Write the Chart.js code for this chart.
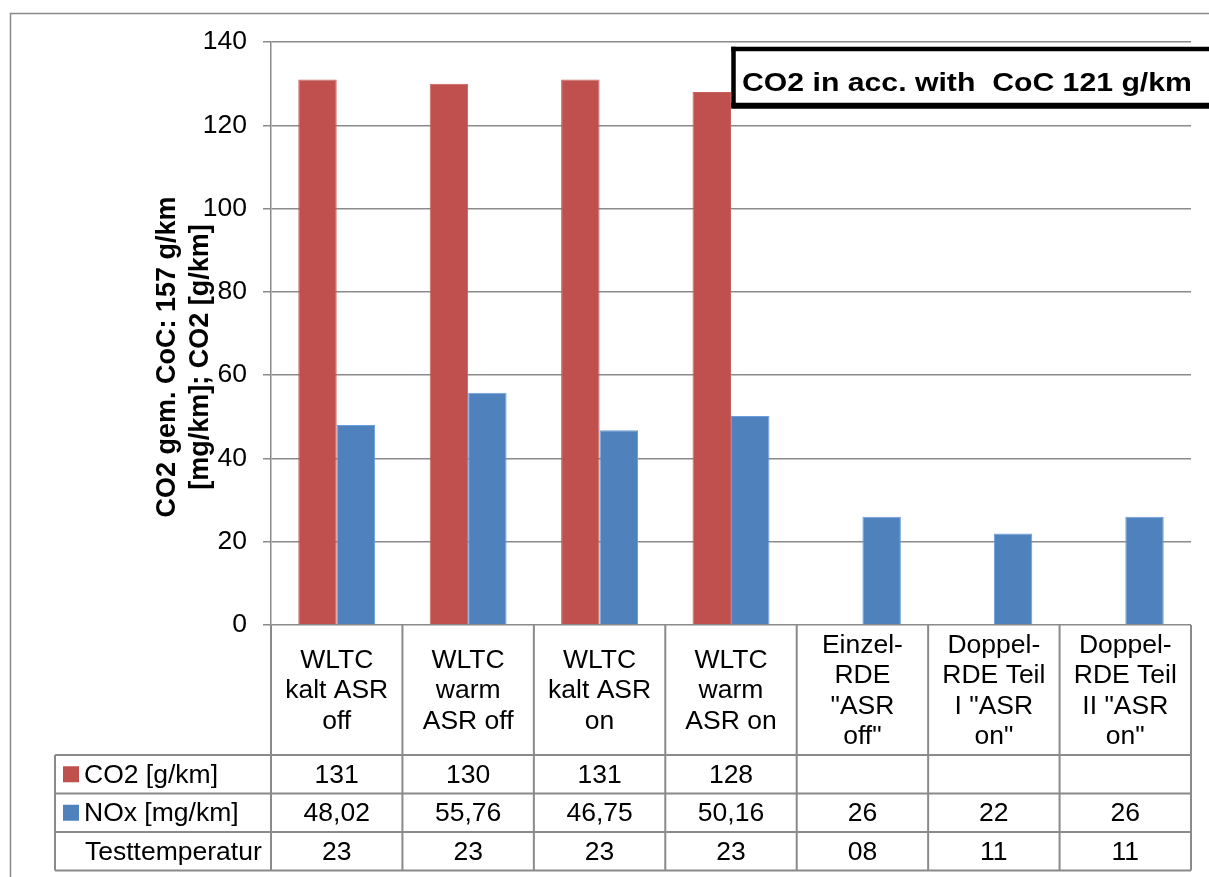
<!DOCTYPE html>
<html>
<head>
<meta charset="utf-8">
<title>CO2 und NOx je Prüfzyklus</title>
<script src="https://cdn.jsdelivr.net/npm/chart.js@4/dist/chart.umd.min.js"></script>
<style>
  html, body { margin: 0; padding: 0; background: #ffffff; overflow: hidden; }
  canvas { display: block; }
</style>
</head>
<body>
<canvas id="chart" width="1209" height="877"></canvas>
<script>
// Test cycles (multi-line category labels)
const categories = [
  ['WLTC', 'kalt ASR', 'off'],
  ['WLTC', 'warm', 'ASR off'],
  ['WLTC', 'kalt ASR', 'on'],
  ['WLTC', 'warm', 'ASR on'],
  ['Einzel-', 'RDE', '"ASR', 'off"'],
  ['Doppel-', 'RDE Teil', 'I "ASR', 'on"'],
  ['Doppel-', 'RDE Teil', 'II "ASR', 'on"']
];

// Series
const seriesNames = ['CO2 [g/km]', 'NOx [mg/km]'];
const co2Values = [131, 130, 131, 128, null, null, null];
const noxValues = [48.02, 55.76, 46.75, 50.16, 26, 22, 26];

// Extra table row
const temperatureLabel = 'Testtemperatur';
const testTemperatures = ['23', '23', '23', '23', '08', '11', '11'];

// Value axis
const yMin = 0;
const yMax = 140;
const yStep = 20;

const axisTitleLines = ['CO2 gem. CoC: 157 g/km', '[mg/km]; CO2 [g/km]'];
const noteText = 'CO2 in acc. with  CoC 121 g/km';

const FONT = '"Liberation Sans", Arial, Helvetica, sans-serif';
const RED = '#C0504D';
const BLUE = '#4F81BD';
const LINE = '#8a8a8a';
const TEXT_SIZE = 26.5;

const fmt = v => (v === null || v === undefined) ? '' : String(v).replace('.', ',');

const tablePlugin = {
  id: 'dataTable',
  beforeDraw(chart) {
    const ctx = chart.ctx;
    ctx.save();
    ctx.fillStyle = '#ffffff';
    ctx.fillRect(0, 0, chart.width, chart.height);
    ctx.restore();
  },
  afterDraw(chart) {
    const ctx = chart.ctx;
    const xs = chart.scales.x;
    const area = chart.chartArea;
    const W = chart.width;
    const n = categories.length;
    const colW = (area.right - area.left) / n;
    const top = area.bottom;
    const labelBottom = top + 130;
    const rowH = 38.5;
    const rows = [labelBottom, labelBottom + rowH, labelBottom + 2 * rowH, labelBottom + 3 * rowH];
    const tableLeft = 55;

    ctx.save();
    ctx.lineCap = 'butt';

    // outer chart frame (left and top edges visible)
    ctx.strokeStyle = LINE;
    ctx.lineWidth = 1.5;
    ctx.beginPath();
    ctx.moveTo(10.5, chart.height + 5);
    ctx.lineTo(10.5, 13.5);
    ctx.lineTo(W + 200, 13.5);
    ctx.stroke();

    // table grid
    ctx.lineWidth = 2;
    ctx.beginPath();
    rows.forEach(y => { ctx.moveTo(tableLeft, y); ctx.lineTo(area.right, y); });
    ctx.moveTo(tableLeft, rows[0]); ctx.lineTo(tableLeft, rows[3]);
    for (let i = 0; i <= n; i++) {
      const x = area.left + i * colW;
      ctx.moveTo(x, top); ctx.lineTo(x, rows[3]);
    }
    ctx.stroke();

    // category labels, vertically centred in their cells
    ctx.fillStyle = '#000000';
    ctx.font = TEXT_SIZE + 'px ' + FONT;
    ctx.textAlign = 'center';
    ctx.textBaseline = 'middle';
    const lh = 30.5;
    const cellMid = (top + labelBottom) / 2;
    categories.forEach((lines, i) => {
      const cx = xs.getPixelForValue(i);
      const y0 = cellMid - (lines.length - 1) * lh / 2;
      lines.forEach((t, k) => ctx.fillText(t, cx, y0 + k * lh + 1));
    });

    // row headers with legend keys
    const rowMid = k => (rows[k] + rows[k + 1]) / 2;
    ctx.textAlign = 'left';
    [RED, BLUE].forEach((c, k) => {
      ctx.fillStyle = c;
      ctx.fillRect(63, rowMid(k) - 8, 16, 16);
      ctx.fillStyle = '#000000';
      ctx.fillText(seriesNames[k], 84, rowMid(k) + 1);
    });
    ctx.fillText(temperatureLabel, 85, rowMid(2) + 1);

    // row values
    ctx.textAlign = 'center';
    const rowData = [co2Values.map(fmt), noxValues.map(fmt), testTemperatures];
    rowData.forEach((vals, k) => {
      vals.forEach((v, i) => {
        ctx.fillText(v, xs.getPixelForValue(i), rowMid(k) + 1);
      });
    });

    // rotated value-axis title
    ctx.save();
    ctx.translate(0, 357);
    ctx.rotate(-Math.PI / 2);
    ctx.font = 'bold 27px ' + FONT;
    ctx.textBaseline = 'alphabetic';
    ctx.textAlign = 'center';
    ctx.fillText(axisTitleLines[0], 0, 175);
    ctx.fillText(axisTitleLines[1], 0, 208);
    ctx.restore();

    // note box: white panel with heavy black outline, running off the right edge
    const bx = 733.5, by = 49, bb = 105, bw = W + 200;
    ctx.fillStyle = '#ffffff';
    ctx.fillRect(bx, by, bw, bb - by);
    ctx.fillStyle = '#000000';
    ctx.fillRect(bx - 2.25, by - 2.25, bw, 4.5);
    ctx.fillRect(bx - 2.25, by - 2.25, 4.5, bb - by + 4.5);
    ctx.fillRect(bx - 2.25, bb - 2.25, bw, 6);

    ctx.save();
    ctx.fillStyle = '#000000';
    ctx.font = 'bold 26.5px ' + FONT;
    ctx.textAlign = 'left';
    ctx.textBaseline = 'alphabetic';
    ctx.translate(742, 91);
    ctx.scale(1.14, 1);
    ctx.fillText(noteText, 0, 0);
    ctx.restore();

    ctx.restore();
  }
};

new Chart(document.getElementById('chart'), {
  type: 'bar',
  data: {
    labels: categories,
    datasets: [
      {
        label: seriesNames[0],
        data: co2Values,
        backgroundColor: RED,
        borderColor: '#c75f5c',
        borderWidth: 1,
        categoryPercentage: 0.585,
        barPercentage: 1.0
      },
      {
        label: seriesNames[1],
        data: noxValues,
        backgroundColor: BLUE,
        borderColor: '#6a9ee0',
        borderWidth: 1,
        categoryPercentage: 0.585,
        barPercentage: 1.0
      }
    ]
  },
  options: {
    responsive: false,
    animation: false,
    devicePixelRatio: 1,
    layout: { padding: { left: 0, top: 42, right: 18, bottom: 0 } },
    plugins: {
      legend: { display: false },
      tooltip: { enabled: false },
      title: { display: false }
    },
    scales: {
      x: {
        type: 'category',
        ticks: { display: false },
        grid: { display: false, drawTicks: false },
        border: { display: false },
        afterFit: s => { s.height = 252; }
      },
      y: {
        min: yMin,
        max: yMax,
        ticks: {
          stepSize: yStep,
          color: '#000000',
          padding: 16,
          font: { family: FONT, size: TEXT_SIZE }
        },
        grid: {
          color: LINE,
          lineWidth: 1.5,
          tickLength: 8,
          tickColor: LINE
        },
        border: { display: true, color: LINE, width: 1.5 },
        afterFit: s => { s.width = 271; }
      }
    }
  },
  plugins: [tablePlugin]
});
</script>
</body>
</html>
